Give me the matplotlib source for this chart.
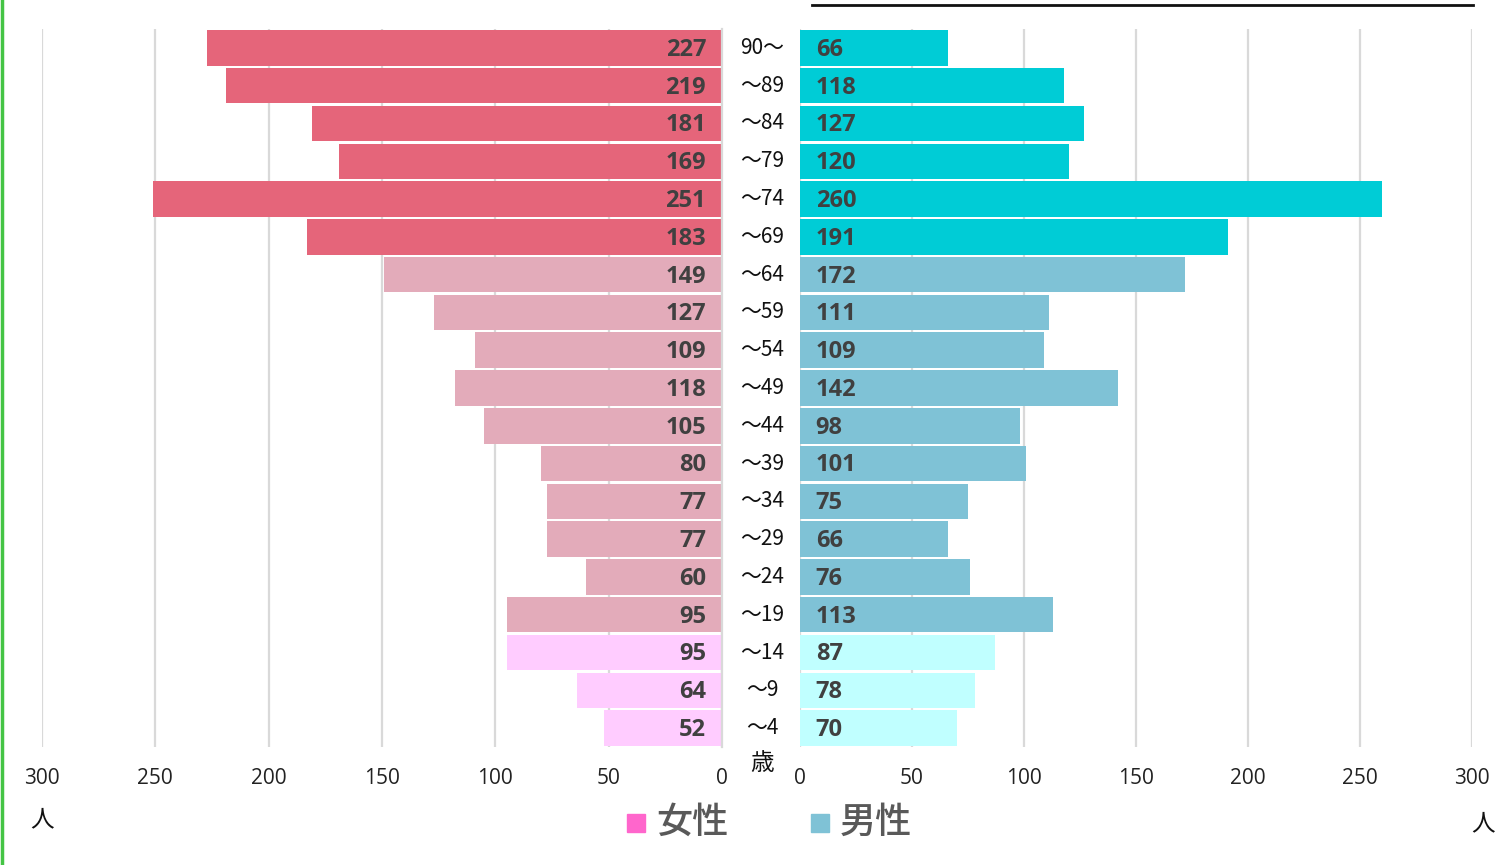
import numpy as np
import matplotlib.pyplot as plt
from matplotlib.lines import Line2D
from matplotlib.patches import Rectangle

plt.rcParams['font.family'] = ['Noto Sans CJK JP', 'DejaVu Sans']

ages = ["90〜", "〜89", "〜84", "〜79", "〜74", "〜69", "〜64", "〜59", "〜54", "〜49",
        "〜44", "〜39", "〜34", "〜29", "〜24", "〜19", "〜14", "〜9", "〜4"]
female = [227, 219, 181, 169, 251, 183, 149, 127, 109, 118, 105, 80, 77, 77, 60, 95, 95, 64, 52]
male = [66, 118, 127, 120, 260, 191, 172, 111, 109, 142, 98, 101, 75, 66, 76, 113, 87, 78, 70]
ticks = [0, 50, 100, 150, 200, 250, 300]

# colour groups: 65+ / 15-64 / 0-14
groups = ["old"] * 6 + ["work"] * 10 + ["young"] * 3
female_colors = {"old": "#E5657A", "work": "#E3ABBA", "young": "#FFCCFF"}
male_colors = {"old": "#00CCD6", "work": "#7FC2D6", "young": "#C0FFFF"}

W, H = 1508, 865
fig = plt.figure(figsize=(W / 100, H / 100), dpi=100)


def fx(px):
    return px / W


def fy(py):
    return 1 - py / H


top, bottom = 29, 747
ax_l = fig.add_axes([fx(42), fy(bottom), fx(722 - 42), fy(top) - fy(bottom)])
ax_r = fig.add_axes([fx(800), fy(bottom), fx(1472 - 800), fy(top) - fy(bottom)])

y = np.arange(len(ages))
label_color = "#404040"
num_font = ["Open Sans", "DejaVu Sans"]

ax_l.barh(y, female, height=0.94, color=[female_colors[g] for g in groups], zorder=2)
ax_r.barh(y, male, height=0.94, color=[male_colors[g] for g in groups], zorder=2)

for ax in (ax_l, ax_r):
    ax.set_xlim(0, 300)
    ax.set_ylim(len(ages) - 0.5, -0.5)
    ax.set_xticks(ticks)
    ax.set_yticks([])
    ax.grid(axis="x", color="#D9D9D9", linewidth=1.6, zorder=0)
    for s in ax.spines.values():
        s.set_visible(False)
    ax.tick_params(axis="x", length=0, pad=15, labelsize=15, labelcolor="#222222")
    for t in ax.get_xticklabels():
        t.set_fontfamily(num_font)

ax_l.invert_xaxis()
ax_l.spines["right"].set_visible(True)
ax_l.spines["right"].set_color("#D9D9D9")
ax_l.spines["right"].set_linewidth(1.6)

# value labels just inside the bars, next to the centre
for i, v in enumerate(female):
    ax_l.text(7, i + 0.05, str(v), ha="right", va="center", fontsize=17,
              fontweight="bold", color=label_color, family=num_font, zorder=3)
for i, v in enumerate(male):
    ax_r.text(7, i + 0.05, str(v), ha="left", va="center", fontsize=17,
              fontweight="bold", color=label_color, family=num_font, zorder=3)

# age labels in the gap between the two halves
pitch = (bottom - top) / len(ages)
for i, a in enumerate(ages):
    fig.text(fx(762), fy(top + pitch * (i + 0.5)), a, ha="center", va="center",
             fontsize=15, color="#111111")

fig.text(fx(762), fy(763), "歳", ha="center", va="center", fontsize=17, color="#111111")
fig.text(fx(42), fy(820), "人", ha="center", va="center", fontsize=17, color="#111111")
fig.text(fx(1483), fy(824), "人", ha="center", va="center", fontsize=17, color="#111111")

# legend
fig.patches.append(Rectangle((fx(627), fy(832)), fx(18), fy(0) - fy(18),
                             transform=fig.transFigure, color="#FF66CC"))
fig.text(fx(656), fy(823), "女性", ha="left", va="center", fontsize=26,
         fontweight="medium", color="#595959")
fig.patches.append(Rectangle((fx(811), fy(832)), fx(18), fy(0) - fy(18),
                             transform=fig.transFigure, color="#7FC2D6"))
fig.text(fx(840), fy(823), "男性", ha="left", va="center", fontsize=26,
         fontweight="medium", color="#595959")

# title cut off at the top edge, only its underline is visible
fig.text(fx(1142), fy(3), "地区別人口ピラミッド（年齢階層別）", ha="center", va="bottom",
         fontsize=22, fontweight="bold", color="#111111")
fig.add_artist(Line2D([fx(812), fx(1473)], [fy(5), fy(5)], color="#111111", linewidth=2))

# green border on the left edge
fig.add_artist(Line2D([fx(2), fx(2)], [0, 1], color="#44C444", linewidth=2.5))

fig.savefig("out.png", dpi=100)
